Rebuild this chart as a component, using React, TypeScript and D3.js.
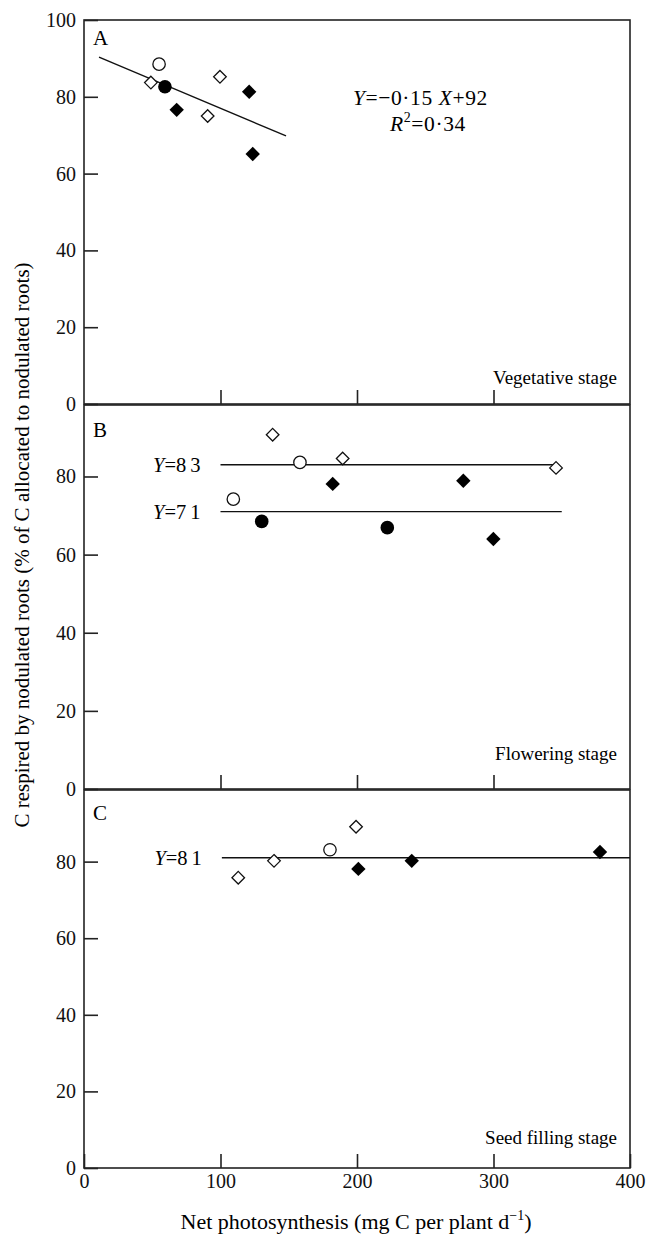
import React, { useEffect, useRef } from 'react';
import * as d3 from 'd3';

// x = net photosynthesis (mg C per plant per day), y = % of C respired by nodulated roots
const xTicks = [0, 100, 200, 300, 400];

// panel A: vegetative stage
const openCircleA = [[55, 88.5]];
const filledCircleA = [[59.3, 82.6]];
const openDiamondA = [[49, 83.7], [99.6, 85.2], [90.6, 75]];
const filledDiamondA = [[67.9, 76.6], [121, 81.3], [123.6, 65.1]];
const fitA = { slope: -0.15, intercept: 92, from: 11, to: 148 };

// panel B: flowering stage
const openCircleB = [[109.4, 74.2], [158.2, 83.6]];
const filledCircleB = [[130.2, 68.5], [222.2, 66.9]];
const openDiamondB = [[138.2, 90.7], [189.5, 84.6], [345.8, 82.2]];
const filledDiamondB = [[182.2, 78.1], [277.9, 78.9], [299.9, 64]];
const meansB = [
    { label: "83", y: 83, from: 100, to: 346 },
    { label: "71", y: 71, from: 100, to: 350 },
];

// panel C: seed filling stage
const openCircleC = [[180.2, 83.1]];
const filledCircleC: number[][] = [];
const openDiamondC = [[113, 75.8], [139.2, 80.2], [199.3, 89.1]];
const filledDiamondC = [[201, 78.1], [240.1, 80.2], [378, 82.5]];
const meansC = [{ label: "81", y: 81, from: 101, to: 400 }];

const FONT = "Liberation Serif, DejaVu Serif, Times New Roman, serif";

const panels = [
    {
        letter: "A", stage: "Vegetative stage", top: 20, bottom: 404, yMax: 100,
        yTicks: [0, 20, 40, 60, 80, 100], letterDy: 25, stageDy: -20,
        openCircle: openCircleA, filledCircle: filledCircleA,
        openDiamond: openDiamondA, filledDiamond: filledDiamondA,
        means: [] as { label: string, y: number, from: number, to: number }[],
    },
    {
        letter: "B", stage: "Flowering stage", top: 405, bottom: 789, yMax: 98.3,
        yTicks: [0, 20, 40, 60, 80], letterDy: 32, stageDy: -29,
        openCircle: openCircleB, filledCircle: filledCircleB,
        openDiamond: openDiamondB, filledDiamond: filledDiamondB,
        means: meansB,
    },
    {
        letter: "C", stage: "Seed filling stage", top: 790, bottom: 1168, yMax: 98.7,
        yTicks: [0, 20, 40, 60, 80], letterDy: 30, stageDy: -24,
        openCircle: openCircleC, filledCircle: filledCircleC,
        openDiamond: openDiamondC, filledDiamond: filledDiamondC,
        means: meansC,
    },
];

export default function App() {
    const svgRef = useRef<SVGSVGElement>(null);
    const width = 646;
    const height = 1238;

    useEffect(() => {
        const svg = d3.select(svgRef.current);
        svg.selectAll("*").remove();

        const xScale = d3.scaleLinear().domain([0, 400]).range([84, 630]);
        const diamond = (r: number) => `M0,${-r}L${r},0L0,${r}L${-r},0Z`;

        panels.forEach((p, i) => {
            const yScale = d3.scaleLinear().domain([0, p.yMax]).range([p.bottom, p.top]);
            const g = svg.append("g");

            // frame
            g.append("rect")
                .attr("x", xScale(0))
                .attr("y", p.top)
                .attr("width", xScale(400) - xScale(0))
                .attr("height", p.bottom - p.top)
                .attr("fill", "none")
                .attr("stroke", "#222")
                .attr("stroke-width", 1.6);

            // y axis, ticks pointing inward
            const yAxis = d3.axisLeft(yScale).tickValues(p.yTicks).tickSize(-14).tickPadding(8);
            const ya = g.append("g").attr("transform", `translate(${xScale(0)},0)`).call(yAxis);
            ya.select(".domain").remove();
            ya.selectAll("line").attr("stroke", "#222").attr("stroke-width", 1.6);
            ya.attr("font-family", FONT).attr("font-size", 20);
            ya.selectAll("text").attr("fill", "#111");

            // x axis, ticks pointing inward; labels on the last panel only
            const last = i === panels.length - 1;
            const xAxis = d3.axisBottom(xScale)
                .tickValues(last ? xTicks : [100, 200, 300])
                .tickSize(-14)
                .tickPadding(6)
                .tickFormat(last ? (d => `${d}`) : () => "");
            const xa = g.append("g").attr("transform", `translate(0,${p.bottom})`).call(xAxis);
            xa.select(".domain").remove();
            xa.selectAll("line").attr("stroke", "#222").attr("stroke-width", 1.6);
            xa.attr("font-family", FONT).attr("font-size", 20);
            xa.selectAll("text").attr("fill", "#111");

            // panel letter and stage name
            g.append("text")
                .attr("x", 93)
                .attr("y", p.top + p.letterDy)
                .attr("font-family", FONT)
                .attr("font-size", 21)
                .text(p.letter);

            g.append("text")
                .attr("x", 617)
                .attr("y", p.bottom + p.stageDy)
                .attr("text-anchor", "end")
                .attr("font-family", FONT)
                .attr("font-size", 19)
                .text(p.stage);

            // horizontal mean lines with labels
            p.means.forEach(m => {
                g.append("line")
                    .attr("x1", xScale(m.from))
                    .attr("x2", xScale(m.to))
                    .attr("y1", yScale(m.y))
                    .attr("y2", yScale(m.y))
                    .attr("stroke", "#111")
                    .attr("stroke-width", 1.4);
                const t = g.append("text")
                    .attr("x", xScale(m.from) - 16)
                    .attr("y", yScale(m.y))
                    .attr("dy", "0.35em")
                    .attr("text-anchor", "end")
                    .attr("font-family", FONT)
                    .attr("font-size", 20.5);
                t.append("tspan").attr("font-style", "italic").text("Y");
                t.append("tspan").text("=");
                t.append("tspan").attr("letter-spacing", 4).text(m.label);
            });

            // markers
            g.selectAll(".oc").data(p.openCircle).join("circle")
                .attr("cx", d => xScale(d[0])).attr("cy", d => yScale(d[1]))
                .attr("r", 6.2).attr("fill", "white").attr("stroke", "#111").attr("stroke-width", 1.3);
            g.selectAll(".fc").data(p.filledCircle).join("circle")
                .attr("cx", d => xScale(d[0])).attr("cy", d => yScale(d[1]))
                .attr("r", 6.8).attr("fill", "#000");
            g.selectAll(".od").data(p.openDiamond).join("path")
                .attr("transform", d => `translate(${xScale(d[0])},${yScale(d[1])})`)
                .attr("d", diamond(6.3)).attr("fill", "white").attr("stroke", "#111").attr("stroke-width", 1.3);
            g.selectAll(".fd").data(p.filledDiamond).join("path")
                .attr("transform", d => `translate(${xScale(d[0])},${yScale(d[1])})`)
                .attr("d", diamond(7.2)).attr("fill", "#000");

            if (i === 0) {
                // regression line for vegetative stage
                const line = d3.line<number>()
                    .x(d => xScale(d))
                    .y(d => yScale(fitA.slope * d + fitA.intercept));
                g.insert("path", "circle")
                    .datum([fitA.from, fitA.to])
                    .attr("d", line)
                    .attr("stroke", "#111")
                    .attr("stroke-width", 1.4)
                    .attr("fill", "none");

                const eq = g.append("text")
                    .attr("x", 353).attr("y", 105)
                    .attr("font-family", FONT).attr("font-size", 21.5)
                    .attr("letter-spacing", 0.6);
                eq.append("tspan").attr("font-style", "italic").text("Y");
                eq.append("tspan").text("=−0·15 ");
                eq.append("tspan").attr("font-style", "italic").text("X");
                eq.append("tspan").text("+92");

                const r2 = g.append("text")
                    .attr("x", 390).attr("y", 131)
                    .attr("font-family", FONT).attr("font-size", 21.5)
                    .attr("letter-spacing", 0.6);
                r2.append("tspan").attr("font-style", "italic").text("R");
                r2.append("tspan").attr("font-size", 14).attr("dy", -9).text("2");
                r2.append("tspan").attr("dy", 9).text("=0·34");
            }
        });

        // axis titles
        const xt = svg.append("text")
            .attr("x", 356).attr("y", 1229)
            .attr("text-anchor", "middle")
            .attr("font-family", FONT).attr("font-size", 22);
        xt.append("tspan").text("Net photosynthesis (mg C per plant d");
        xt.append("tspan").attr("font-size", 14).attr("dy", -9).text("−1");
        xt.append("tspan").attr("dy", 9).text(")");

        svg.append("text")
            .attr("transform", "translate(22,545) rotate(-90)")
            .attr("text-anchor", "middle")
            .attr("dy", "0.35em")
            .attr("font-family", FONT).attr("font-size", 21)
            .text("C respired by nodulated roots (% of C allocated to nodulated roots)");

        svg.style("background-color", "white");
    }, []);

    return (
        <svg
            ref={svgRef}
            width={width}
            height={height}
            style={{ position: "absolute", left: 0, top: 0, fontFamily: FONT }}
        />
    );
}
